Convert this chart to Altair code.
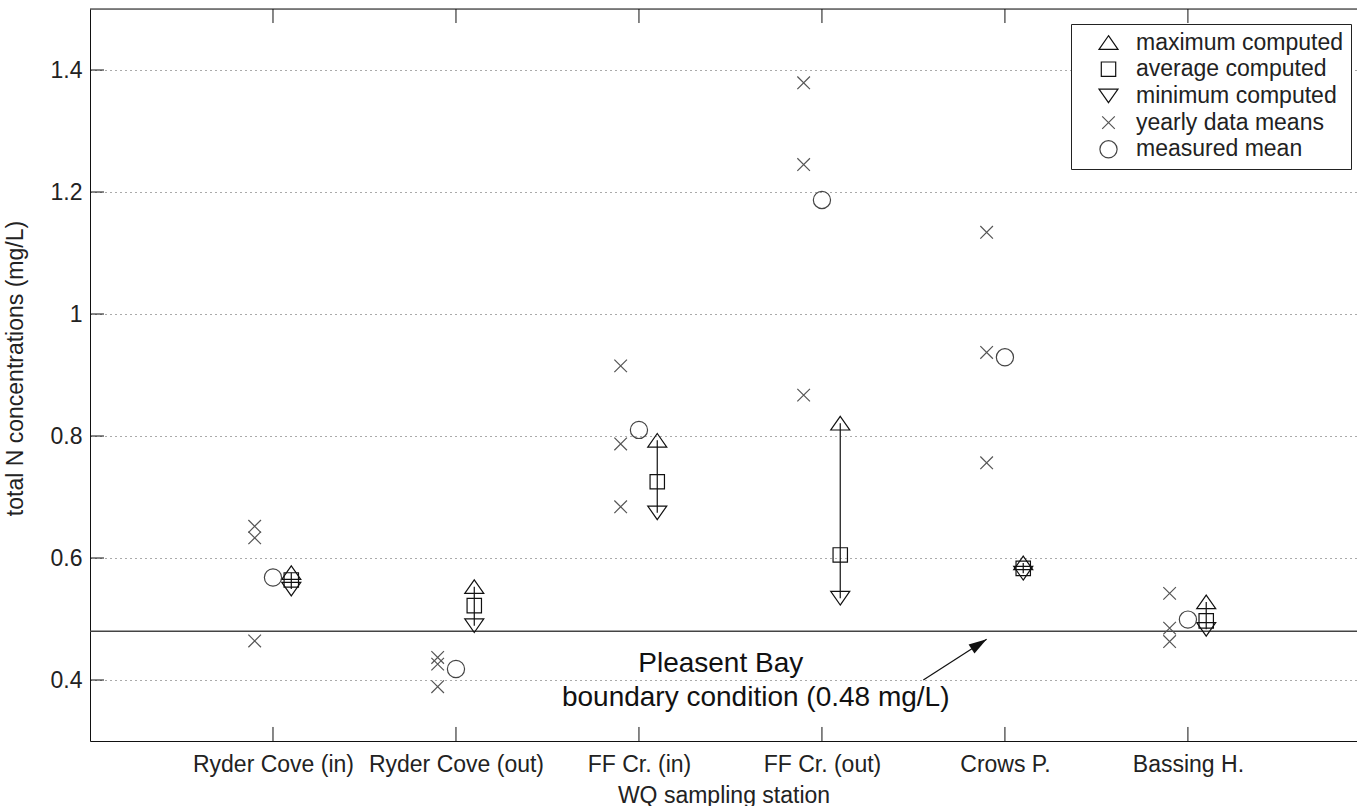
import json
import altair as alt
import pandas as pd

# ---------------- data ----------------
stations = ["Ryder Cove (in)", "Ryder Cove (out)", "FF Cr. (in)",
            "FF Cr. (out)", "Crows P.", "Bassing H."]
station_pos = [1, 2, 3, 4, 5, 6]

max_computed = [0.576, 0.553, 0.793, 0.821, 0.592, 0.528]
avg_computed = [0.564, 0.522, 0.725, 0.605, 0.583, 0.497]
min_computed = [0.549, 0.489, 0.674, 0.534, 0.575, 0.483]

yearly_means = [
    [0.652, 0.633, 0.464],
    [0.437, 0.426, 0.389],
    [0.915, 0.787, 0.684],
    [1.379, 1.245, 0.867],
    [1.134, 0.937, 0.756],
    [0.542, 0.485, 0.463],
]
measured_mean = [0.568, 0.418, 0.810, 1.187, 0.929, 0.499]

boundary_value = [0.48]
y_ticks = [0.4, 0.6, 0.8, 1.0, 1.2, 1.4]
series_names = ["maximum computed", "average computed", "minimum computed",
                "yearly data means", "measured mean"]

annotation_lines = ["Pleasent Bay", "boundary condition (0.48 mg/L)"]
annotation_x = [3.447, 3.638]
annotation_y = [0.4126, 0.3574]
arrow_x = [4.554, 4.900]
arrow_y = [0.400, 0.467]

# ---------------- styling constants ----------------
FONT = "Liberation Sans"
X_DOMAIN = [0, 6.924]
Y_DOMAIN = [0.3, 1.5]
W, H = 1267, 732
OFFSET = 0.1           # horizontal offset of yearly means / computed markers
TICK_X = 0.0765        # inward tick length in x units (~14 px)
TICK_Y = 0.023         # inward tick length in y units (~14 px)

TRI_UP = "M0,-0.68L0.95,0.68L-0.95,0.68Z"
SQUARE = "M-0.72,-0.72L0.72,-0.72L0.72,0.72L-0.72,0.72Z"
TRI_DOWN = "M0,0.68L0.95,-0.68L-0.95,-0.68Z"
CROSS = "M-0.63,-0.63L0.63,0.63M-0.63,0.63L0.63,-0.63"
CIRCLE = "M0.86,0A0.86,0.86,0,1,1,-0.86,0A0.86,0.86,0,1,1,0.86,0Z"
ARROWHEAD = "M0,0L-0.3,1L0.3,1Z"

# ---------------- tables ----------------
rows = []
for i, p in enumerate(station_pos):
    rows.append({"x": p + OFFSET, "y": max_computed[i], "series": series_names[0]})
    rows.append({"x": p + OFFSET, "y": avg_computed[i], "series": series_names[1]})
    rows.append({"x": p + OFFSET, "y": min_computed[i], "series": series_names[2]})
    for v in yearly_means[i]:
        rows.append({"x": p - OFFSET, "y": v, "series": series_names[3]})
    rows.append({"x": p, "y": measured_mean[i], "series": series_names[4]})
points_df = pd.DataFrame(rows)

range_df = pd.DataFrame({"x": [p + OFFSET for p in station_pos],
                         "lo": min_computed, "hi": max_computed})
bottom_ticks = pd.DataFrame({"x": station_pos,
                             "y0": [Y_DOMAIN[0]] * 6,
                             "y1": [Y_DOMAIN[0] + TICK_Y] * 6})
top_ticks = pd.DataFrame({"x": station_pos,
                          "y0": [Y_DOMAIN[1]] * 6,
                          "y1": [Y_DOMAIN[1] - TICK_Y] * 6})
left_ticks = pd.DataFrame({"y": y_ticks, "x0": [0] * len(y_ticks),
                           "x1": [TICK_X] * len(y_ticks)})
boundary_df = pd.DataFrame({"y": boundary_value})
top_df = pd.DataFrame({"y": [Y_DOMAIN[1]]})
text_df = pd.DataFrame({"x": annotation_x, "y": annotation_y, "t": annotation_lines})
arrow_df = pd.DataFrame({"x": arrow_x, "y": arrow_y, "o": [0, 1]})
head_df = pd.DataFrame({"x": [arrow_x[1]], "y": [arrow_y[1]]})

# ---------------- scales & axes ----------------
xscale = alt.Scale(domain=X_DOMAIN, nice=False, zero=False)
yscale = alt.Scale(domain=Y_DOMAIN, nice=False, zero=False)
label_expr = json.dumps([""] + stations) + "[datum.value]"

xaxis = alt.Axis(values=station_pos, labelExpr=label_expr, title="WQ sampling station",
                 grid=False, ticks=False, domainColor="#111", domainWidth=1,
                 labelFontSize=23, labelPadding=12, labelColor="#222",
                 titleFontSize=23, titleFontWeight="normal", titleColor="#222",
                 titleY=54, titleBaseline="middle", labelFlush=False, labelOverlap=False)
yaxis = alt.Axis(values=y_ticks, format="~g", title="total N concentrations (mg/L)",
                 grid=True, gridDash=[1, 4], gridColor="#555", gridWidth=1,
                 ticks=False, domainColor="#111", domainWidth=1,
                 labelFontSize=23, labelPadding=8, labelColor="#222",
                 titleFontSize=23, titleFontWeight="normal", titleColor="#222",
                 titleX=-75, titleY=359, titleBaseline="middle")


def X(field):
    return alt.X(field, type="quantitative", scale=xscale, axis=xaxis)


def Y(field):
    return alt.Y(field, type="quantitative", scale=yscale, axis=yaxis)


legend = alt.Legend(title=None, orient="none", legendX=981, legendY=15,
                    fillColor="white", strokeColor="#222", padding=7,
                    symbolSize=400, symbolStrokeWidth=1.2, symbolOffset=19,
                    labelOffset=16, labelFontSize=23, labelFont=FONT,
                    labelColor="#222", labelLimit=400, rowPadding=2.7)

# ---------------- layers ----------------
boundary = alt.Chart(boundary_df).mark_rule(color="#444", strokeWidth=1.6).encode(y=Y("y"))
top_border = alt.Chart(top_df).mark_rule(color="#111", strokeWidth=1).encode(y=Y("y"))

ranges = alt.Chart(range_df).mark_rule(color="#111", strokeWidth=1.2).encode(
    x=X("x"), y=Y("lo"), y2="hi")

pts = alt.Chart(points_df).mark_point(filled=False, size=400, strokeWidth=1.2, opacity=1).encode(
    x=X("x"), y=Y("y"),
    shape=alt.Shape("series:N", scale=alt.Scale(domain=series_names,
                    range=[TRI_UP, SQUARE, TRI_DOWN, CROSS, CIRCLE]), legend=legend),
    color=alt.Color("series:N", scale=alt.Scale(domain=series_names,
                    range=["#111", "#111", "#111", "#555", "#444"]), legend=legend),
)

btick = alt.Chart(bottom_ticks).mark_rule(color="#111").encode(x=X("x"), y=Y("y0"), y2="y1")
ttick = alt.Chart(top_ticks).mark_rule(color="#111").encode(x=X("x"), y=Y("y0"), y2="y1")
ltick = alt.Chart(left_ticks).mark_rule(color="#111").encode(y=Y("y"), x=X("x0"), x2="x1")

texts = alt.Chart(text_df).mark_text(font=FONT, fontSize=28, color="#111",
                                     align="center", baseline="alphabetic").encode(
    x=X("x"), y=Y("y"), text="t:N")

arrow_line = alt.Chart(arrow_df).mark_line(color="#111", strokeWidth=1.2).encode(
    x=X("x"), y=Y("y"), order="o:Q")
arrow_head = alt.Chart(head_df).mark_point(shape=ARROWHEAD, size=1296, filled=True,
                                           color="#111", opacity=1, angle=57).encode(
    x=X("x"), y=Y("y"))

chart = alt.layer(
    boundary, top_border, ranges, btick, ttick, ltick, texts, arrow_line, arrow_head, pts
).properties(
    width=W, height=H,
    padding={"left": 90, "top": 9, "right": 0, "bottom": 65},
    autosize=alt.AutoSizeParams(type="none"),
).configure_view(stroke="transparent").configure_axis(
    labelFont=FONT, titleFont=FONT
).configure(background="white")

chart.save("out.html", embed_options={"renderer": "svg", "actions": False})
